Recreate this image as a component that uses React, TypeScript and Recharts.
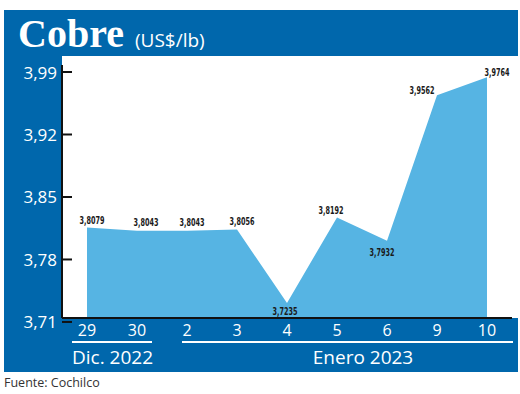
import React from 'react'
import { AreaChart, Area, XAxis, YAxis, LabelList } from 'recharts'

// cobre, US$/lb, fuente Cochilco
const dates = ['29', '30', '2', '3', '4', '5', '6', '9', '10']
const prices = [3.8079, 3.8043, 3.8043, 3.8056, 3.7235, 3.8192, 3.7932, 3.9562, 3.9764]
const yTicks = [3.71, 3.78, 3.85, 3.92, 3.99]
const groupLabels = ['Dic. 2022', 'Enero 2023']

const rows = dates.map((d, i) => ({ date: d, price: prices[i] }))

// label nudges (dx, dy) so the numbers sit like the original
const labelNudge = [
  [5, -7], [9, -8], [5, -8], [5, -8], [-2, 9], [-6, -7], [-5, 12], [-15, -5], [10, -5],
]

const BLUE = '#0067ac'
const FILL = '#56b4e3'
const SANS = '"Open Sans", sans-serif'
const NARROW = '"DejaVu Sans Condensed", sans-serif'

const fmt = (v: number, d: number) => v.toFixed(d).replace('.', ',')

function YTick(props: any) {
  const { x, y, payload } = props
  const yy = y + 7
  return (
    <g>
      <line x1={x + 5} x2={x + 15} y1={yy} y2={yy} stroke="#111" strokeWidth={2} />
      <text x={x} y={yy} textAnchor="end" dominantBaseline="central" fill="#fff" fontSize={17} fontFamily={SANS}>
        {fmt(payload.value, 2)}
      </text>
    </g>
  )
}

function PriceLabel(props: any) {
  const { x, y, value, index } = props
  const [dx, dy] = labelNudge[index] || [0, -8]
  return (
    <text
      x={x + dx}
      y={y + dy}
      textAnchor="middle"
      dominantBaseline="central"
      fill="#1a1a1a"
      fontSize={11}
      fontWeight="bold"
      fontFamily={NARROW}
      textLength={25}
      lengthAdjust="spacingAndGlyphs"
    >
      {fmt(value, 4)}
    </text>
  )
}

export default function App() {
  return (
    <div style={{ position: 'absolute', left: 0, top: 0, width: 520, height: 394, background: '#fff', overflow: 'hidden' }}>
      <div style={{ position: 'absolute', left: 4, top: 10, width: 514, height: 362, background: BLUE }} />
      <div style={{ position: 'absolute', left: 62, top: 56, width: 456, height: 262, background: '#fff' }} />
      <div style={{ position: 'absolute', left: 18, top: 10, height: 45, display: 'flex', alignItems: 'baseline', color: '#fff' }}>
        <span style={{ fontFamily: '"Liberation Serif", serif', fontWeight: 'bold', fontSize: 40, lineHeight: '48px' }}>Cobre</span>
        <span style={{ fontFamily: SANS, fontSize: 19, marginLeft: 11 }}>(US$/lb)</span>
      </div>
      <div style={{ position: 'absolute', left: 72, top: 341, width: 80, height: 2, background: '#fff' }} />
      <div style={{ position: 'absolute', left: 182, top: 341, width: 331, height: 2, background: '#fff' }} />
      <div style={{ position: 'absolute', left: 72, top: 345, fontFamily: SANS, fontSize: 19, lineHeight: '24px', color: '#fff' }}>
        {groupLabels[0]}
      </div>
      <div style={{ position: 'absolute', left: 263, width: 200, textAlign: 'center', top: 345, fontFamily: SANS, fontSize: 19, lineHeight: '24px', color: '#fff' }}>
        {groupLabels[1]}
      </div>
      <div style={{ position: 'absolute', left: 4, top: 374, fontFamily: SANS, fontSize: 12.5, lineHeight: '18px', color: '#333' }}>
        Fuente: Cochilco
      </div>
      <div style={{ position: 'absolute', left: 0, top: 0 }}>
        <AreaChart width={520} height={394} data={rows} margin={{ top: 65, right: 8, bottom: 46, left: 0 }}>
          <XAxis
            dataKey="date"
            interval={0}
            padding={{ left: 25, right: 25 }}
            axisLine={{ stroke: '#111', strokeWidth: 2 }}
            tickLine={false}
            tickSize={0}
            tickMargin={7}
            height={30}
            tick={{ fill: '#fff', fontSize: 16, fontFamily: SANS }}
          />
          <YAxis
            type="number"
            domain={[3.7066, 3.99]}
            ticks={yTicks}
            width={62}
            tickSize={0}
            tickMargin={5}
            axisLine={{ stroke: '#111', strokeWidth: 2 }}
            tick={<YTick />}
          />
          <Area
            type="linear"
            dataKey="price"
            stroke="none"
            fill={FILL}
            fillOpacity={1}
            isAnimationActive={false}
          >
            <LabelList dataKey="price" content={<PriceLabel />} />
          </Area>
        </AreaChart>
      </div>
    </div>
  )
}
